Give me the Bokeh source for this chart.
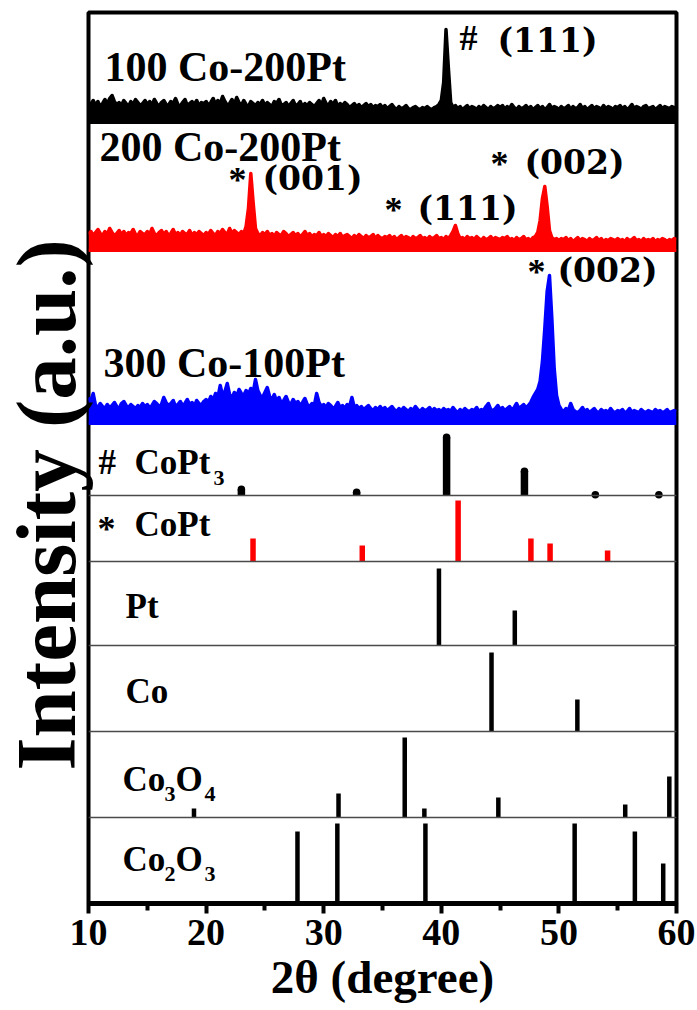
import numpy as np
from bokeh.plotting import figure
from bokeh.models import Range1d, Span, FixedTicker, Title
from bokeh.core.properties import value
from bokeh.embed import file_html
from bokeh.resources import INLINE

# ---------------- data ----------------
two_theta_start = 10.0
two_theta_step = 0.2

# measured patterns: upper envelope of the noisy trace (a.u. above each trace's baseline)
black_100Co_200Pt = [
    20, 18, 22, 17, 21, 16, 19, 23, 18, 24, 27, 21, 18, 20, 17, 22, 19, 16, 21, 18, 23, 20, 17, 19, 22,
    18, 21, 17, 23, 19, 16, 20, 22, 18, 17, 21, 19, 24, 18, 16, 20, 23, 17, 19, 21, 18, 22, 16, 20, 19,
    21, 17, 20, 24, 18, 22, 19, 26, 21, 17, 19, 23, 18, 25, 20, 17, 22, 18, 16, 21, 19, 17, 20, 18, 22,
    17, 20, 18, 16, 21, 19, 23, 17, 18, 20, 16, 19, 22, 17, 18, 21, 16, 19, 17, 20, 18, 16, 19, 22, 17,
    24, 19, 17, 21, 18, 22, 16, 19, 17, 20, 18, 15, 17, 19, 16, 18, 15, 17, 19, 16, 18, 15, 17, 16, 18,
    15, 17, 14, 16, 18, 15, 13, 16, 14, 15, 17, 14, 13, 15, 16, 14, 13, 15, 14, 16, 14, 13, 15, 16, 18,
    22, 40, 93, 55, 20, 15, 17, 14, 16, 13, 15, 17, 14, 16, 15, 13, 16, 14, 17, 15, 13, 16, 14, 15, 17,
    15, 17, 13, 16, 14, 18, 15, 13, 16, 14, 15, 17, 14, 16, 13, 15, 17, 14, 16, 13, 15, 18, 14, 16, 15,
    13, 16, 14, 15, 17, 13, 16, 14, 15, 18, 14, 16, 13, 15, 17, 14, 16, 15, 13, 17, 14, 16, 15, 13, 16,
    15, 17, 14, 16, 13, 15, 18, 14, 16, 15, 13, 16, 17, 14, 15, 16, 13, 15, 17, 14, 16, 15, 14, 16, 15, 15,
]
red_200Co_200Pt = [
    16, 19, 15, 18, 21, 17, 15, 19, 16, 22, 18, 15, 17, 20, 16, 19, 15, 18, 17, 21, 16, 15, 19, 17, 16,
    19, 16, 22, 17, 15, 18, 20, 16, 19, 15, 17, 21, 16, 18, 15, 19, 17, 16, 20, 15, 18, 16, 19, 17, 15,
    18, 16, 20, 17, 15, 19, 17, 21, 18, 16, 22, 17, 20, 18, 16, 19, 17, 24, 42, 77, 48, 22, 17, 15, 18,
    16, 19, 15, 17, 14, 18, 16, 15, 19, 17, 14, 16, 18, 15, 17, 14, 16, 19, 15, 17, 14, 16, 15, 18, 14,
    16, 14, 17, 15, 13, 16, 14, 17, 13, 15, 16, 14, 12, 15, 13, 16, 14, 12, 15, 13, 14, 16, 12, 15, 13,
    12, 14, 13, 15, 12, 14, 11, 13, 15, 12, 14, 13, 11, 14, 12, 13, 15, 12, 13, 11, 14, 12, 13, 15, 12,
    13, 11, 14, 12, 15, 19, 25, 17, 12, 13, 11, 14, 12, 13, 11, 14, 12, 10, 13, 11, 12, 14, 11, 13, 12,
    11, 13, 12, 14, 11, 12, 10, 13, 11, 12, 14, 11, 12, 10, 13, 14, 18, 30, 52, 64, 44, 20, 13, 11, 12,
    10, 12, 11, 13, 10, 12, 9, 11, 13, 10, 12, 11, 9, 12, 10, 11, 13, 10, 12, 9, 11, 10, 12, 11, 10,
    12, 10, 11, 9, 12, 10, 11, 13, 10, 11, 9, 12, 10, 11, 10, 12, 9, 11, 10, 12, 11, 9, 11, 10, 12, 11,
]
blue_300Co_100Pt = [
    26, 22, 30, 18, 16, 20, 17, 15, 19, 16, 18, 21, 17, 15, 20, 22, 18, 16, 19, 17, 15, 18, 16, 20, 17,
    19, 16, 18, 22, 20, 17, 19, 26, 21, 18, 20, 23, 17, 19, 22, 18, 20, 24, 19, 21, 17, 23, 20, 18, 22,
    24, 21, 27, 23, 30, 26, 38, 28, 32, 40, 29, 25, 31, 27, 34, 30, 28, 33, 29, 35, 31, 44, 33, 28, 26,
    31, 36, 27, 24, 29, 22, 26, 20, 23, 27, 21, 19, 24, 20, 22, 18, 21, 25, 19, 17, 20, 18, 30, 21, 17,
    19, 16, 20, 18, 15, 17, 21, 16, 18, 15, 19, 17, 26, 16, 18, 15, 17, 14, 16, 18, 15, 13, 16, 14, 17,
    14, 16, 13, 15, 17, 14, 12, 15, 13, 16, 14, 12, 15, 13, 17, 14, 12, 15, 13, 14, 16, 12, 15, 13, 14,
    12, 15, 13, 14, 12, 16, 13, 11, 14, 12, 15, 13, 12, 14, 13, 16, 12, 14, 13, 17, 20, 14, 13, 15, 18,
    14, 16, 13, 15, 17, 14, 16, 20, 15, 17, 19, 16, 18, 21, 26, 30, 34, 42, 62, 95, 132, 148, 105, 55, 28,
    18, 14, 12, 15, 13, 20, 14, 12, 11, 13, 16, 12, 14, 11, 13, 15, 12, 11, 14, 12, 13, 11, 15, 12, 11,
    13, 12, 14, 11, 12, 15, 11, 13, 12, 11, 14, 12, 11, 13, 12, 11, 14, 12, 13, 11, 12, 14, 11, 12, 13, 12,
]

# reference patterns: 2theta positions and relative heights
copt3_pos = [23.0, 32.8, 40.45, 47.07, 53.1, 58.5]
copt3_int = [10, 7, 62, 28, 4.5, 4.5]
copt_pos = [23.99, 33.28, 41.43, 47.62, 49.25, 54.14]
copt_int = [23, 16, 61, 23, 18, 11]
pt_pos = [39.8, 46.25]
pt_int = [77, 35]
co_pos = [44.27, 51.57]
co_int = [79, 32]
co3o4_pos = [18.97, 31.26, 36.89, 38.56, 44.85, 55.64, 59.39]
co3o4_int = [9, 24, 80, 9, 20, 13, 41]
co2o3_pos = [27.77, 31.16, 38.65, 51.34, 56.46, 58.87]
co2o3_int = [72, 80, 80, 80, 72, 40]

x_ticks = [10, 20, 30, 40, 50, 60]
x_minor = [15, 25, 35, 45, 55]

# ---------------- layout helpers ----------------
X0, PX_PER_DEG = 88.0, 11.76
Y_BOTTOM = 903.0


def gx(px):
    return 10 + (px - X0) / PX_PER_DEG


def gy(py):
    return Y_BOTTOM - py


SERIF = "Liberation Serif"
WIDE = "DejaVu Serif"

p = figure(width=697, height=1010, x_range=Range1d(10, 60), y_range=Range1d(0, 891),
           output_backend="svg", toolbar_location=None, y_axis_location=None,
           min_border_left=88, min_border_right=21, min_border_top=12, min_border_bottom=107)
p.grid.visible = False
p.outline_line_color = "black"
p.outline_line_width = 4
p.background_fill_color = "white"
p.border_fill_color = "white"

ax = p.xaxis[0]
ax.ticker = FixedTicker(ticks=x_ticks, minor_ticks=x_minor)
ax.axis_line_width = 5
ax.major_tick_line_width = 4
ax.minor_tick_line_width = 4
ax.major_tick_in = 0
ax.major_tick_out = 10
ax.minor_tick_in = 0
ax.minor_tick_out = 7
ax.major_label_standoff = 6
ax.major_label_text_font = SERIF
ax.major_label_text_font_style = "bold"
ax.major_label_text_font_size = "38px"
ax.major_label_text_color = "black"
ax.axis_label = "2\u03b8 (degree)"
ax.axis_label_text_font = SERIF
ax.axis_label_text_font_style = "bold"
ax.axis_label_text_font_size = "47px"
ax.axis_label_text_color = "black"
ax.axis_label_standoff = 3

p.add_layout(Title(text="Intensity (a.u.)", align="left", offset=133, standoff=-8,
                   vertical_align="bottom", text_font=SERIF, text_font_style="bold",
                   text_font_size="85px", text_color="black"), "left")

# panel separators
for yy in [gy(495), gy(561), gy(645), gy(731), gy(817)]:
    p.add_layout(Span(location=yy, dimension="width", line_color="#4a4a4a", line_width=1.5))

# measured traces
xs = two_theta_start + two_theta_step * np.arange(len(black_100Co_200Pt))
for vals, base_px, col in [(black_100Co_200Pt, 122, "black"),
                           (red_200Co_200Pt, 250, "#ff0000"),
                           (blue_300Co_100Pt, 423, "#0000ff")]:
    off = gy(base_px)
    top = off + np.array(vals, dtype=float)
    p.varea(x=xs, y1=off, y2=top, fill_color=col)
    p.line(xs, top, line_color=col, line_width=3.5, line_join="round")
    p.line(xs, np.full_like(top, off), line_color=col, line_width=3)


# reference stick patterns
def sticks(pos, inten, base_px, col, wpx, rounded=False):
    base = gy(base_px)
    h = np.array(inten, dtype=float)
    w = wpx / PX_PER_DEG
    if rounded:
        r = wpx / 2
        p.vbar(x=pos, bottom=base, top=base + np.maximum(h - r, 0), width=w,
               fill_color=col, line_color=None)
        p.scatter(x=pos, y=base + np.maximum(h - r, 0), size=wpx, marker="circle",
                  fill_color=col, line_color=None)
    else:
        p.vbar(x=pos, bottom=base, top=base + h, width=w, fill_color=col, line_color=None)


sticks(copt3_pos, copt3_int, 495, "black", 7.5, rounded=True)
sticks(copt_pos, copt_int, 561, "#ff0000", 5.5)
sticks(pt_pos, pt_int, 645, "black", 4.5)
sticks(co_pos, co_int, 731, "black", 4.5)
sticks(co3o4_pos, co3o4_int, 817, "black", 4.5)
sticks(co2o3_pos, co2o3_int, 903, "black", 4.5)


def txt(items, font, size, color="black"):
    s = float(size.replace("px", ""))
    p.text(x=[gx(a) for a, b, t in items], y=[gy(b - 0.35 * s) for a, b, t in items],
           text=[t for a, b, t in items], text_font=value(font), text_font_style="bold",
           text_font_size=size, text_color=color, text_baseline="alphabetic", text_align="left")


# sample names
txt([(104, 81, "100 Co-200Pt"), (99, 161, "200 Co-200Pt"), (103, 377, "300 Co-100Pt")], SERIF, "42px")
# peak indices
txt([(497, 52, "(111)"), (262, 190, "(001)"), (417, 220, "(111)"), (524, 174, "(002)"),
     (557, 282, "(002)")], WIDE, "33px")
txt([(459, 50, "#")], SERIF, "36px")
txt([(228, 192, "*"), (384, 222, "*"), (490, 176, "*"), (527, 284, "*")], SERIF, "36px")
# reference names
txt([(98, 474, "#")], SERIF, "35px")
txt([(97, 541, "*")], SERIF, "36px")
txt([(134, 474, "CoPt"), (134, 536, "CoPt"), (125, 618, "Pt"), (125, 703, "Co"),
     (122, 791, "Co"), (175, 791, "O"), (122, 871, "Co"), (175, 871, "O")], SERIF, "35px")
txt([(213, 485, "3"), (164, 801, "3"), (204, 801, "4"), (164, 881, "2"), (204, 881, "3")], SERIF, "22px")

open("out.html", "w").write(file_html(p, INLINE))
